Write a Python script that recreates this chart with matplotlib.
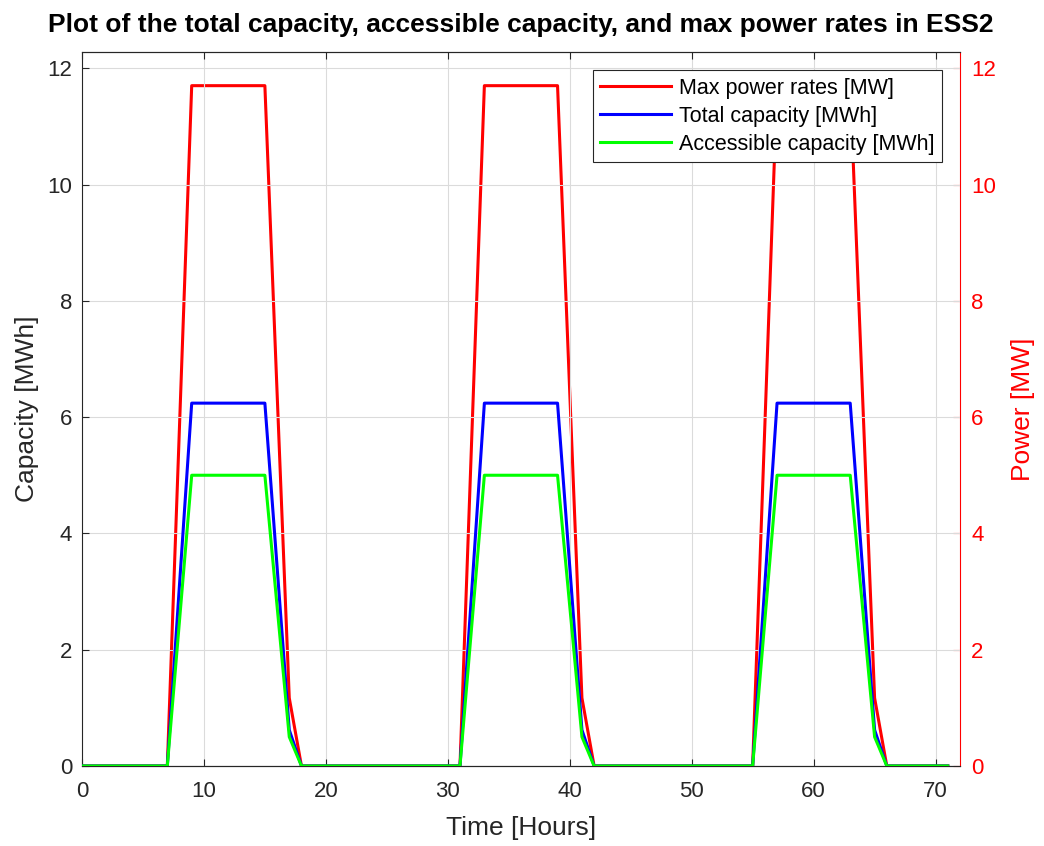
import matplotlib
matplotlib.use("Agg")
import matplotlib.pyplot as plt
import numpy as np

plt.rcParams['font.family'] = ['Liberation Sans', 'DejaVu Sans']

hours = list(range(72))
# one daily profile (hours 0..23), repeated for three days
power_day = [0, 0, 0, 0, 0, 0, 0, 0, 5.85, 11.7, 11.7, 11.7, 11.7, 11.7, 11.7, 11.7,
             6.43, 1.17, 0, 0, 0, 0, 0, 0]
total_day = [0, 0, 0, 0, 0, 0, 0, 0, 3.12, 6.24, 6.24, 6.24, 6.24, 6.24, 6.24, 6.24,
             3.43, 0.62, 0, 0, 0, 0, 0, 0]
access_day = [0, 0, 0, 0, 0, 0, 0, 0, 2.5, 5.0, 5.0, 5.0, 5.0, 5.0, 5.0, 5.0,
              2.75, 0.5, 0, 0, 0, 0, 0, 0]
max_power = power_day * 3
total_cap = total_day * 3
access_cap = access_day * 3

xticks = [0, 10, 20, 30, 40, 50, 60, 70]
yticks = [0, 2, 4, 6, 8, 10, 12]

fig = plt.figure(figsize=(10.44, 8.46), dpi=100)
ax = fig.add_axes([0.0785, 0.0946, 0.841, 0.844])
ax2 = ax.twinx()

dark = (0.15, 0.15, 0.15)
lw = 2.2
l2, = ax.plot(hours, total_cap, color='#0000ff', lw=lw, label='Total capacity [MWh]', zorder=3)
l3, = ax.plot(hours, access_cap, color='#00ff00', lw=lw, label='Accessible capacity [MWh]', zorder=4)
l1, = ax2.plot(hours, max_power, color='#ff0000', lw=lw, label='Max power rates [MW]')

ax.set_zorder(ax2.get_zorder() + 1)
ax.patch.set_visible(False)

ax.set_xlim(0, 72)
ax.set_ylim(0, 12.28)
ax2.set_ylim(0, 12.28)
ax.set_xticks(xticks)
ax.set_yticks(yticks)
ax2.set_yticks(yticks)
ax.grid(True, color=(0.86, 0.86, 0.86), lw=0.8)
ax.set_axisbelow(True)

ax.tick_params(axis='both', direction='in', length=5, labelsize=16, colors=dark, top=True)
ax.tick_params(axis='x', pad=11)
ax.tick_params(axis='y', right=False, pad=7)
ax2.tick_params(axis='y', direction='in', length=5, labelsize=16, colors='#ff0000', pad=8)
for s in ['left', 'bottom', 'top']:
    ax.spines[s].set_color(dark)
    ax2.spines[s].set_color(dark)
ax.spines['right'].set_visible(False)
ax2.spines['right'].set_color('#ff0000')
ax2.spines['left'].set_visible(False)

ax.set_xlabel('Time [Hours]', fontsize=19, color=dark, labelpad=10)
ax.set_ylabel('Capacity [MWh]', fontsize=19, color=dark, labelpad=6)
ax2.set_ylabel('Power [MW]', fontsize=19, color='#ff0000', labelpad=11)
ax.set_title('Plot of the total capacity, accessible capacity, and max power rates in ESS2',
             fontsize=19, fontweight='bold', pad=14)

leg = ax.legend(handles=[l1, l2, l3], loc='upper right', fontsize=15.5, frameon=True,
                fancybox=False, edgecolor=dark, framealpha=1, borderpad=0.35,
                handlelength=3.3, labelspacing=0.32, borderaxespad=0.85, handletextpad=0.35)
leg.get_frame().set_linewidth(0.8)

fig.savefig('out.png', dpi=100)
